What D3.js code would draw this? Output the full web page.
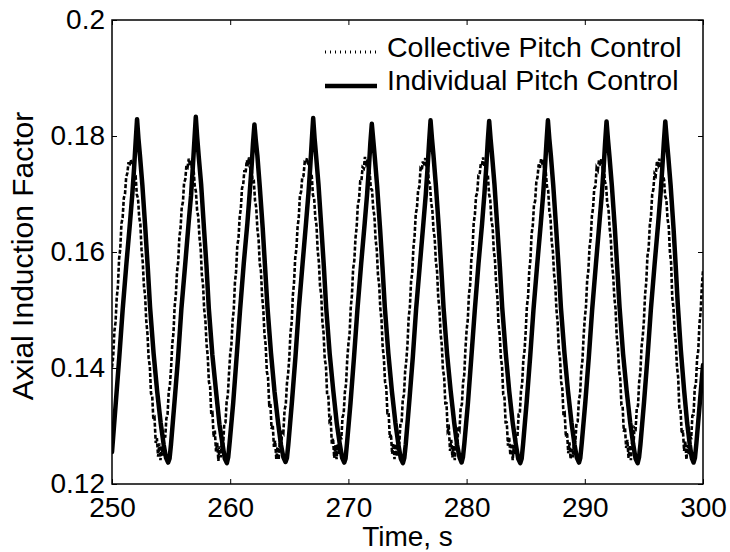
<!DOCTYPE html>
<html>
<head>
<meta charset="utf-8">
<script src="https://cdn.jsdelivr.net/npm/d3@7"></script>
<style>
  html, body { margin: 0; padding: 0; background: #fff; }
  svg { display: block; }
  text { font-family: "Liberation Sans", Arial, Helvetica, sans-serif; fill: #000; }
</style>
</head>
<body>
<svg id="chart" width="730" height="552"></svg>
<script>
// Axis ticks and labels
const xTicks = [250, 260, 270, 280, 290, 300];
const xTickLabels = ["250", "260", "270", "280", "290", "300"];
const yTicks = [0.12, 0.14, 0.16, 0.18, 0.2];
const yTickLabels = ["0.12", "0.14", "0.16", "0.18", "0.2"];
const xTitle = "Time, s";
const yTitle = "Axial Induction Factor";
const seriesNames = ["Collective Pitch Control", "Individual Pitch Control"];

// Collective pitch control: axial induction factor sampled every 0.1 s from t = 250 s
const cpcStartTime = 250;
const cpcSampleStep = 0.1;
const cpcValues = [
  0.1401,0.1419,0.1463,0.1479,0.1521,0.1541,0.1588,0.1606,0.1649,0.1659,0.1693,0.1700,0.1729,0.1736,0.1755,0.1749,0.1759,0.1750,0.1756,0.1732,0.1731,0.1699,0.1693,0.1660,0.1648,0.1604,0.1583,0.1542,0.1525,0.1481,0.1459,0.1417,0.1403,0.1356,0.1353,0.1310,0.1313,0.1271,0.1279,0.1247,0.1270,0.1241,0.1265,0.1249,0.1285,0.1280,0.1313,0.1320,0.1359,0.1371,
  0.1401,0.1442,0.1460,0.1506,0.1526,0.1566,0.1583,0.1626,0.1641,0.1677,0.1686,0.1720,0.1725,0.1750,0.1747,0.1761,0.1749,0.1757,0.1739,0.1743,0.1714,0.1704,0.1672,0.1661,0.1625,0.1607,0.1561,0.1544,0.1501,0.1483,0.1441,0.1420,0.1376,0.1368,0.1320,0.1322,0.1281,0.1292,0.1256,0.1271,0.1240,0.1265,0.1246,0.1276,0.1266,0.1304,0.1306,0.1342,0.1353,0.1391,
  0.1424,0.1440,0.1481,0.1500,0.1547,0.1567,0.1611,0.1623,0.1660,0.1675,0.1710,0.1716,0.1741,0.1736,0.1758,0.1753,0.1763,0.1744,0.1746,0.1721,0.1722,0.1689,0.1677,0.1640,0.1622,0.1580,0.1567,0.1524,0.1501,0.1458,0.1440,0.1394,0.1384,0.1337,0.1339,0.1295,0.1302,0.1264,0.1275,0.1243,0.1264,0.1242,0.1275,0.1260,0.1293,0.1289,0.1328,0.1336,0.1373,0.1390,
  0.1418,0.1461,0.1478,0.1525,0.1547,0.1590,0.1605,0.1643,0.1659,0.1698,0.1704,0.1730,0.1731,0.1754,0.1752,0.1762,0.1749,0.1756,0.1734,0.1731,0.1698,0.1693,0.1660,0.1646,0.1603,0.1583,0.1542,0.1526,0.1480,0.1460,0.1415,0.1404,0.1354,0.1353,0.1309,0.1312,0.1269,0.1279,0.1245,0.1267,0.1243,0.1269,0.1252,0.1284,0.1277,0.1315,0.1321,0.1358,0.1372,0.1414,
  0.1441,0.1459,0.1504,0.1526,0.1571,0.1585,0.1624,0.1643,0.1682,0.1691,0.1722,0.1722,0.1746,0.1744,0.1764,0.1753,0.1759,0.1738,0.1738,0.1709,0.1707,0.1675,0.1662,0.1622,0.1604,0.1561,0.1544,0.1503,0.1483,0.1436,0.1417,0.1376,0.1367,0.1323,0.1324,0.1280,0.1286,0.1252,0.1270,0.1243,0.1269,0.1248,0.1280,0.1268,0.1304,0.1306,0.1345,0.1354,0.1394,0.1413,
  0.1441,0.1487,0.1505,0.1548,0.1565,0.1607,0.1628,0.1666,0.1676,0.1707,0.1712,0.1743,0.1740,0.1756,0.1749,0.1762,0.1746,0.1751,0.1722,0.1717,0.1685,0.1673,0.1639,0.1624,0.1584,0.1567,0.1522,0.1502,0.1460,0.1440,0.1397,0.1385,0.1339,0.1339,0.1292,0.1296,0.1257,0.1276,0.1246,0.1266,0.1241,0.1270,0.1261,0.1298,0.1294,0.1332,0.1337,0.1375,0.1388,0.1432,
  0.1465,0.1483,0.1527,0.1543,0.1587,0.1606,0.1650,0.1664,0.1696,0.1702,0.1732,0.1733,0.1752,0.1750,0.1763,0.1747,0.1755,0.1733,0.1732,0.1700,0.1690,0.1654,0.1643,0.1603,0.1586,0.1545,0.1523,0.1475,0.1458,0.1418,0.1402,0.1354,0.1351,0.1306,0.1306,0.1266,0.1281,0.1250,0.1270,0.1241,0.1267,0.1250,0.1286,0.1281,0.1320,0.1321,0.1360,0.1373,0.1414,0.1430,
  0.1463,0.1506,0.1523,0.1567,0.1587,0.1631,0.1646,0.1681,0.1688,0.1721,0.1729,0.1751,0.1745,0.1760,0.1751,0.1759,0.1735,0.1738,0.1713,0.1707,0.1671,0.1658,0.1618,0.1601,0.1562,0.1545,0.1501,0.1479,0.1434,0.1417,0.1376,0.1364,0.1318,0.1321,0.1281,0.1289,0.1253,0.1272,0.1243,0.1263,0.1246,0.1280,0.1272,0.1306,0.1308,0.1345,0.1355,0.1396,0.1413,0.1455,
  0.1486,0.1506,0.1551,0.1568,0.1608,0.1624,0.1662,0.1676,0.1710,0.1713,0.1745,0.1741,0.1758,0.1749,0.1761,0.1746,0.1749,0.1721,0.1716,0.1683,0.1676,0.1641,0.1623,0.1579,0.1560,0.1521,0.1503,0.1455,0.1435,0.1396,0.1381,0.1336,0.1334,0.1290,0.1297,0.1262,0.1276,0.1245,0.1267,0.1241,0.1272,0.1260,0.1297,0.1295,0.1331,0.1335,0.1376,0.1392,0.1436,0.1454,
  0.1481,0.1527,0.1548,0.1593,0.1606,0.1646,0.1662,0.1699,0.1708,0.1735,0.1732,0.1755,0.1750,0.1761,0.1746,0.1754,0.1731,0.1725,0.1696,0.1691,0.1657,0.1644,0.1600,0.1582,0.1521,0.1504,0.1463,0.1443,0.1401,0.1384,0.1329,0.1328,0.1287,0.1293,0.1257,0.1274,0.1242,0.1267,0.1250,0.1287,0.1277,0.1318,0.1319,0.1365,0.1372,0.1416,0.1430,0.1476,0.1497,0.1540,
  0.1568
];

// Individual pitch control: key points of the response (time in s, axial induction factor)
const ipcTime = [
  250.00,250.32,250.62,250.90,251.22,251.52,251.72,251.87,252.00,252.12,252.24,252.37,252.57,252.82,253.02,253.22,253.52,253.82,254.12,254.37,254.57,254.75,
  254.87,254.99,255.29,255.59,255.87,256.19,256.49,256.69,256.84,256.97,257.09,257.21,257.34,257.54,257.79,257.99,258.19,258.49,258.79,259.09,259.34,259.54,259.72,
  259.83,259.95,260.25,260.55,260.83,261.15,261.45,261.65,261.80,261.93,262.05,262.17,262.30,262.50,262.75,262.95,263.15,263.45,263.75,264.05,264.30,264.50,264.68,
  264.80,264.92,265.22,265.52,265.80,266.12,266.42,266.62,266.77,266.90,267.02,267.14,267.27,267.47,267.72,267.92,268.12,268.42,268.72,269.02,269.27,269.47,269.65,
  269.76,269.88,270.18,270.48,270.76,271.08,271.38,271.58,271.73,271.86,271.98,272.10,272.23,272.43,272.68,272.88,273.08,273.38,273.68,273.98,274.23,274.43,274.61,
  274.73,274.85,275.15,275.45,275.73,276.05,276.35,276.55,276.70,276.83,276.95,277.07,277.20,277.40,277.65,277.85,278.05,278.35,278.65,278.95,279.20,279.40,279.58,
  279.69,279.81,280.11,280.41,280.69,281.01,281.31,281.51,281.66,281.79,281.91,282.03,282.16,282.36,282.61,282.81,283.01,283.31,283.61,283.91,284.16,284.36,284.54,
  284.66,284.78,285.08,285.38,285.66,285.98,286.28,286.48,286.63,286.76,286.88,287.00,287.13,287.33,287.58,287.78,287.98,288.28,288.58,288.88,289.13,289.33,289.51,
  289.62,289.74,290.04,290.34,290.62,290.94,291.24,291.44,291.59,291.72,291.84,291.96,292.09,292.29,292.54,292.74,292.94,293.24,293.54,293.84,294.09,294.29,294.47,
  294.59,294.71,295.01,295.31,295.59,295.91,296.21,296.41,296.56,296.69,296.81,296.93,297.06,297.26,297.51,297.68,297.86,298.12,298.40,298.66,298.88,299.05,299.20,
  299.32,299.44,299.74,300.00
];
const ipcValue = [
  0.1255,0.1340,0.1420,0.1500,0.1580,0.1650,0.1700,0.1745,0.1790,0.1829,0.1795,0.1765,0.1715,0.1640,0.1575,0.1505,0.1425,0.1360,0.1305,0.1268,0.1245,0.1237,
  0.1244,0.1268,0.1342,0.1418,0.1502,0.1578,0.1652,0.1698,0.1747,0.1792,0.1833,0.1797,0.1764,0.1717,0.1638,0.1577,0.1503,0.1423,0.1362,0.1303,0.1270,0.1244,0.1236,
  0.1246,0.1271,0.1339,0.1421,0.1499,0.1581,0.1649,0.1702,0.1744,0.1788,0.1820,0.1792,0.1766,0.1713,0.1641,0.1574,0.1506,0.1426,0.1359,0.1306,0.1267,0.1246,0.1238,
  0.1245,0.1269,0.1341,0.1419,0.1501,0.1579,0.1651,0.1701,0.1746,0.1791,0.1831,0.1796,0.1765,0.1716,0.1639,0.1576,0.1504,0.1424,0.1361,0.1304,0.1269,0.1245,0.1237,
  0.1244,0.1270,0.1340,0.1420,0.1500,0.1580,0.1650,0.1699,0.1744,0.1789,0.1821,0.1794,0.1764,0.1714,0.1640,0.1575,0.1505,0.1425,0.1360,0.1305,0.1268,0.1244,0.1236,
  0.1245,0.1268,0.1342,0.1419,0.1502,0.1579,0.1651,0.1700,0.1746,0.1790,0.1827,0.1796,0.1766,0.1715,0.1641,0.1574,0.1504,0.1424,0.1361,0.1306,0.1267,0.1246,0.1237,
  0.1246,0.1270,0.1339,0.1421,0.1499,0.1581,0.1649,0.1701,0.1745,0.1791,0.1826,0.1795,0.1765,0.1716,0.1639,0.1576,0.1505,0.1426,0.1359,0.1304,0.1269,0.1244,0.1236,
  0.1244,0.1269,0.1341,0.1420,0.1501,0.1580,0.1650,0.1700,0.1745,0.1790,0.1827,0.1795,0.1766,0.1715,0.1640,0.1575,0.1504,0.1425,0.1360,0.1305,0.1268,0.1245,0.1237,
  0.1245,0.1270,0.1340,0.1419,0.1500,0.1579,0.1651,0.1699,0.1744,0.1789,0.1825,0.1794,0.1764,0.1714,0.1641,0.1574,0.1505,0.1424,0.1361,0.1306,0.1269,0.1244,0.1236,
  0.1246,0.1269,0.1341,0.1420,0.1501,0.1580,0.1650,0.1700,0.1746,0.1790,0.1825,0.1795,0.1765,0.1715,0.1640,0.1580,0.1512,0.1432,0.1362,0.1305,0.1268,0.1245,0.1237,
  0.1245,0.1270,0.1342,0.1405
];

// Layout
const plot = { left: 112, right: 703, top: 20, bottom: 484 };
const tickFont = 28;

const svg = d3.select("#chart");
const x = d3.scaleLinear().domain([250, 300]).range([plot.left, plot.right]);
const y = d3.scaleLinear().domain([0.12, 0.2]).range([plot.bottom, plot.top]);

svg.append("rect").attr("width", 730).attr("height", 552).attr("fill", "#fff");

svg.append("defs").append("clipPath").attr("id", "plot-clip")
  .append("rect")
  .attr("x", plot.left).attr("y", plot.top)
  .attr("width", plot.right - plot.left).attr("height", plot.bottom - plot.top);

const lines = svg.append("g").attr("clip-path", "url(#plot-clip)");

// Collective pitch control (dotted)
const cpcLine = d3.line()
  .x((d, i) => x(cpcStartTime + i * cpcSampleStep))
  .y(d => y(d));
lines.append("path")
  .datum(cpcValues)
  .attr("d", cpcLine)
  .attr("fill", "none")
  .attr("stroke", "#000")
  .attr("stroke-width", 2.6)
  .attr("stroke-dasharray", "4,2")
  .attr("stroke-linecap", "butt");

// Individual pitch control (thick solid)
const ipcPoints = ipcTime.map((t, i) => [t, ipcValue[i]]);
const ipcLine = d3.line().x(d => x(d[0])).y(d => y(d[1]));
lines.append("path")
  .datum(ipcPoints)
  .attr("d", ipcLine)
  .attr("fill", "none")
  .attr("stroke", "#000")
  .attr("stroke-width", 4.5)
  .attr("stroke-linejoin", "round")
  .attr("stroke-linecap", "round");

// Axes with inward ticks on all four sides
function styleAxis(g) {
  g.select(".domain").remove();
  g.selectAll(".tick line").attr("stroke", "#000").attr("stroke-width", 1);
  g.selectAll(".tick text").attr("font-size", tickFont).attr("font-family", "Liberation Sans, Arial, sans-serif");
}

svg.append("g")
  .attr("transform", `translate(0,${plot.bottom})`)
  .call(d3.axisBottom(x).tickValues(xTicks).tickFormat((d, i) => xTickLabels[i])
    .tickSizeInner(-5).tickSizeOuter(0).tickPadding(13))
  .call(styleAxis);

svg.append("g")
  .attr("transform", `translate(0,${plot.top})`)
  .call(d3.axisTop(x).tickValues(xTicks).tickFormat("")
    .tickSizeInner(-5).tickSizeOuter(0))
  .call(styleAxis);

svg.append("g")
  .attr("transform", `translate(${plot.left},0)`)
  .call(d3.axisLeft(y).tickValues(yTicks).tickFormat((d, i) => yTickLabels[i])
    .tickSizeInner(-5).tickSizeOuter(0).tickPadding(7))
  .call(styleAxis);

svg.append("g")
  .attr("transform", `translate(${plot.right},0)`)
  .call(d3.axisRight(y).tickValues(yTicks).tickFormat("")
    .tickSizeInner(-5).tickSizeOuter(0))
  .call(styleAxis);

// Box
svg.append("rect")
  .attr("x", plot.left).attr("y", plot.top)
  .attr("width", plot.right - plot.left).attr("height", plot.bottom - plot.top)
  .attr("fill", "none").attr("stroke", "#000").attr("stroke-width", 1.5);

// Axis titles
svg.append("text")
  .attr("x", (plot.left + plot.right) / 2)
  .attr("y", 546)
  .attr("text-anchor", "middle")
  .attr("font-size", 28)
  .text(xTitle);

svg.append("text")
  .attr("transform", `translate(33,${(plot.top + plot.bottom) / 2 + 4}) rotate(-90)`)
  .attr("text-anchor", "middle")
  .attr("font-size", 30)
  .text(yTitle);

// Legend
const legend = svg.append("g");
const legendRows = [
  { name: seriesNames[0], dash: "1,4", width: 3, lineY: 52, textY: 57 },
  { name: seriesNames[1], dash: null, width: 4.5, lineY: 86, textY: 90 }
];
legendRows.forEach(r => {
  legend.append("line")
    .attr("x1", 325).attr("x2", 377)
    .attr("y1", r.lineY).attr("y2", r.lineY)
    .attr("stroke", "#000")
    .attr("stroke-width", r.width)
    .attr("stroke-dasharray", r.dash);
  legend.append("text")
    .attr("x", 387).attr("y", r.textY)
    .attr("font-size", 28.5)
    .text(r.name);
});
</script>
</body>
</html>
